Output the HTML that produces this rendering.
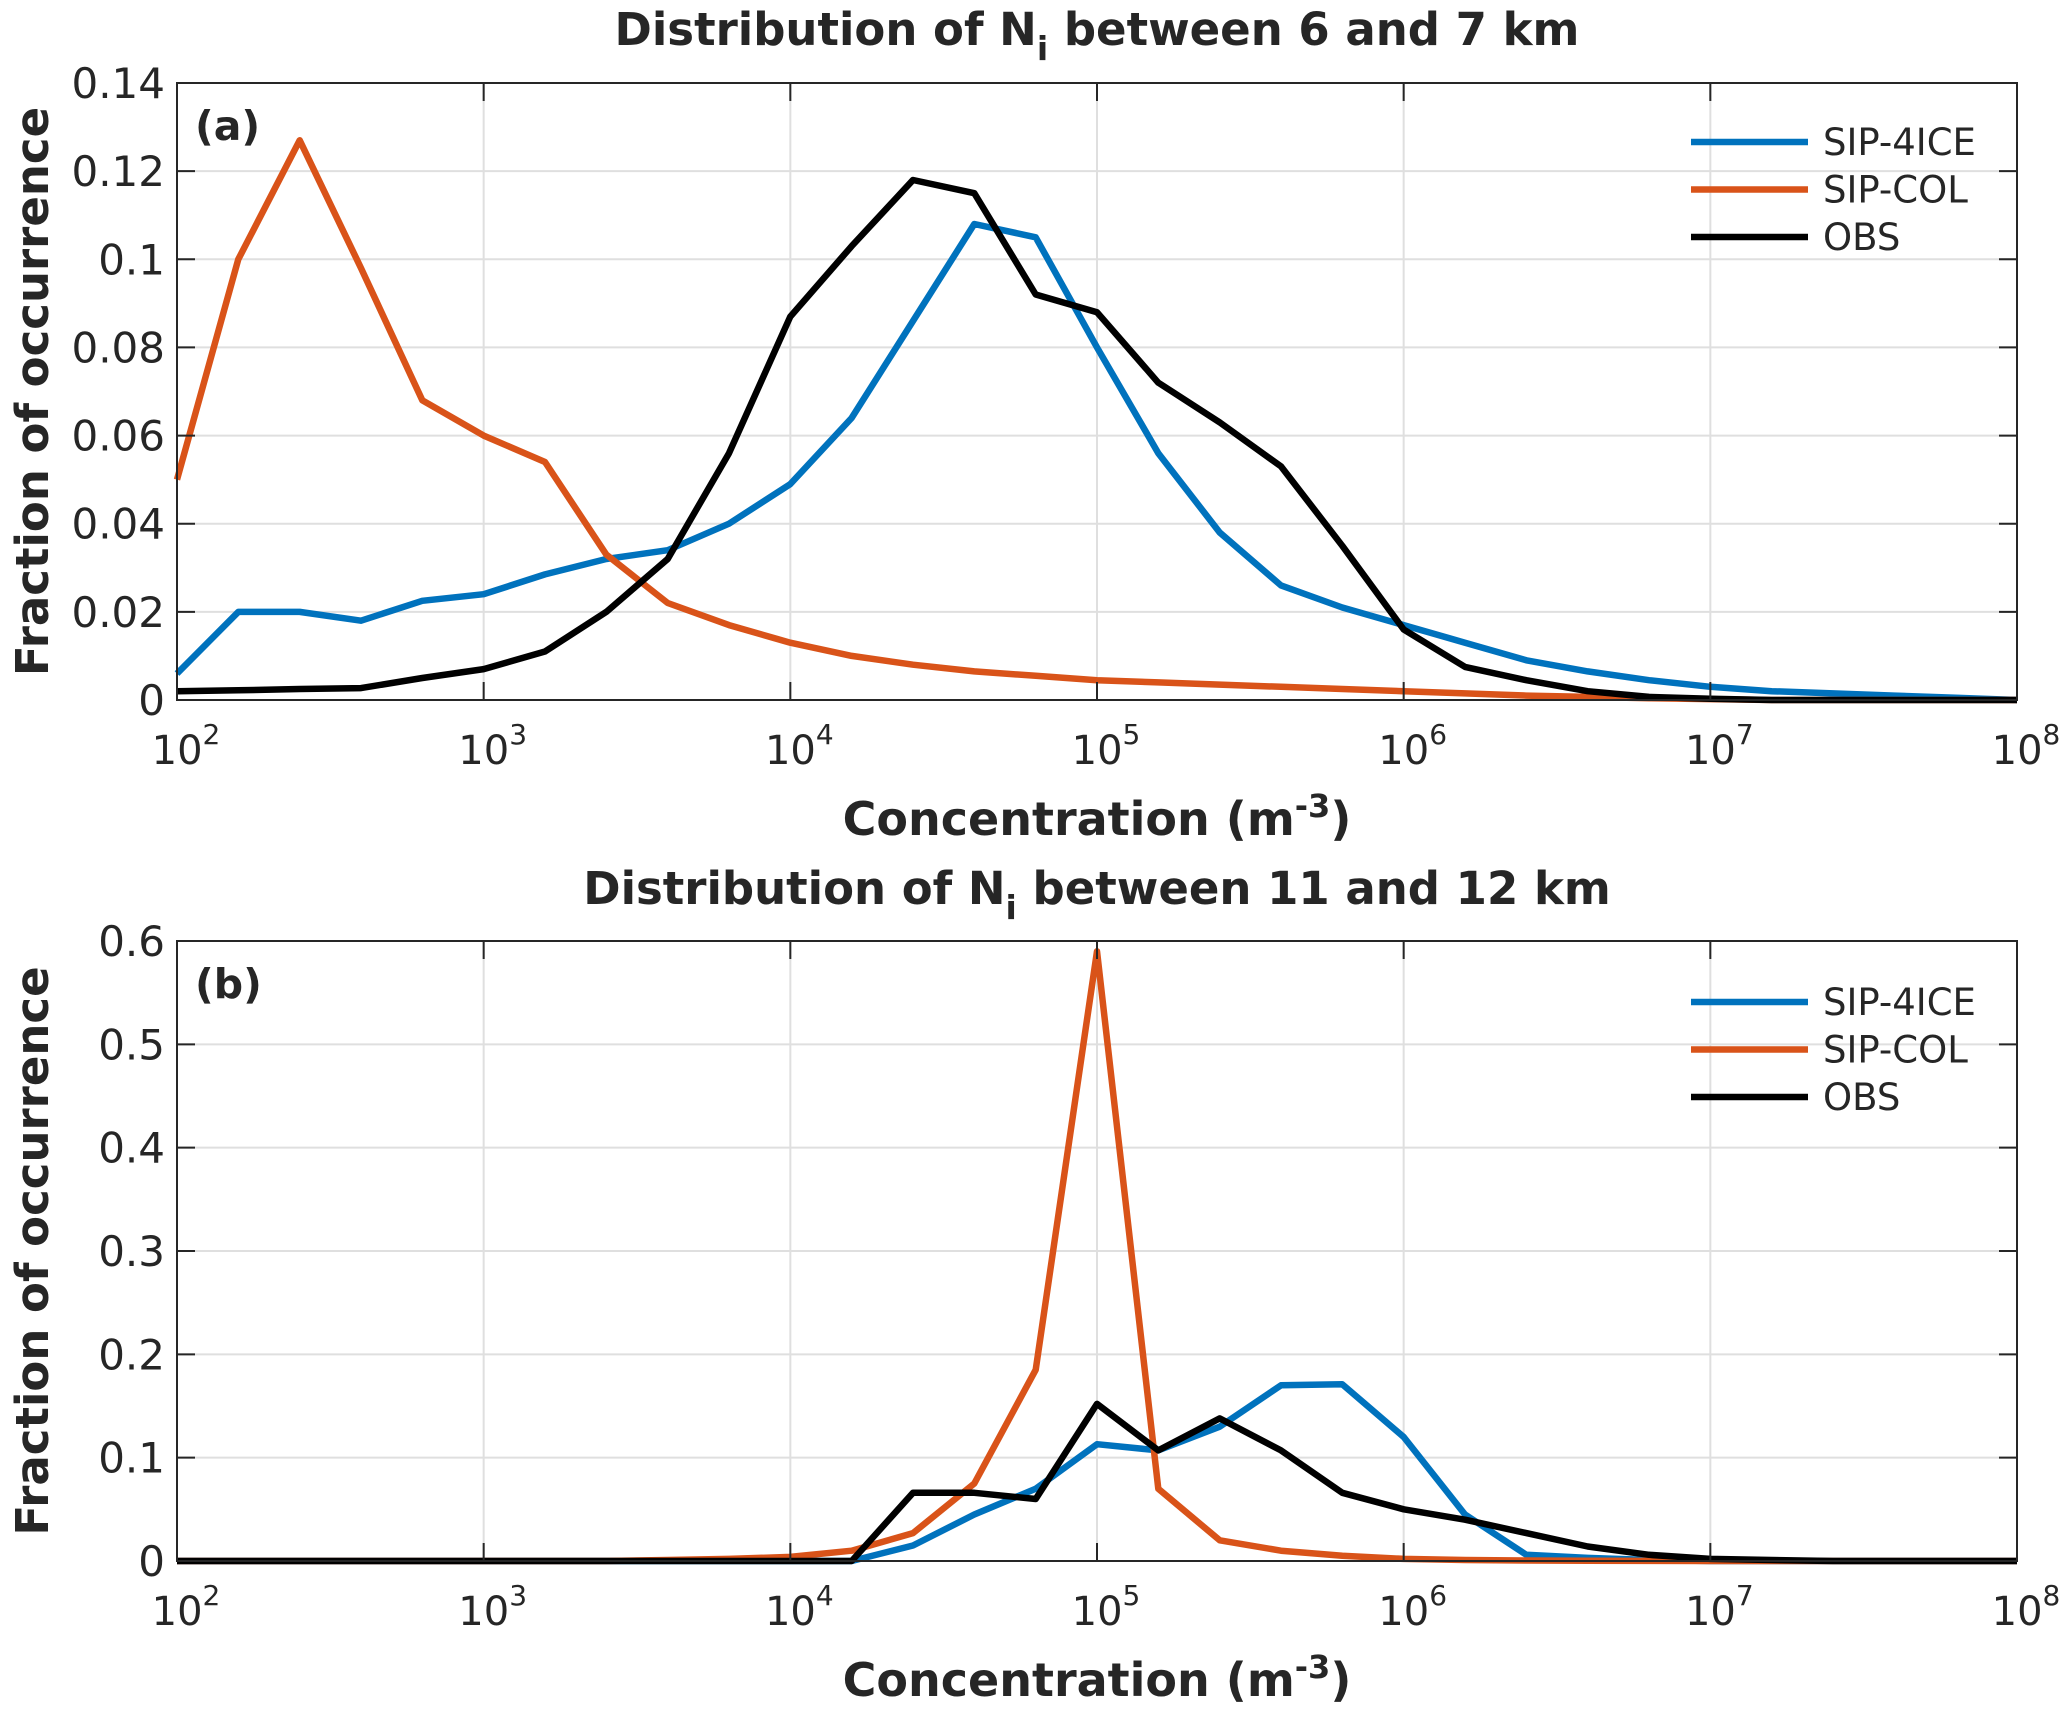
<!DOCTYPE html>
<html><head><meta charset="utf-8"><style>
html,body{margin:0;padding:0;background:#fff}
svg{display:block}
text{font-family:"DejaVu Sans","Liberation Sans",sans-serif;fill:#262626}
</style></head><body>
<svg id="fig" width="2067" height="1716" viewBox="0 0 2067 1716" xmlns="http://www.w3.org/2000/svg"></svg>
<script>
const xExp = [2,2.2,2.4,2.6,2.8,3,3.2,3.4,3.6,3.8,4,4.2,4.4,4.6,4.8,5,5.2,5.4,5.6,5.8,6,6.2,6.4,6.6,6.8,7,7.2,7.4,7.6,7.8,8];
const aBlue = [0.006,0.020,0.020,0.018,0.0225,0.024,0.0285,0.032,0.034,0.040,0.049,0.064,0.086,0.108,0.105,0.080,0.056,0.038,0.026,0.021,0.017,0.013,0.009,0.0065,0.0045,0.003,0.002,0.0015,0.001,0.0005,0];
const aOrange = [0.050,0.100,0.127,0.098,0.068,0.060,0.054,0.033,0.022,0.017,0.013,0.010,0.008,0.0065,0.0055,0.0045,0.004,0.0035,0.003,0.0025,0.002,0.0015,0.001,0.0007,0.0004,0.0002,0,0,0,0,0];
const aBlack = [0.002,0.0022,0.0025,0.0027,0.005,0.007,0.011,0.020,0.032,0.056,0.087,0.103,0.118,0.115,0.092,0.088,0.072,0.063,0.053,0.035,0.016,0.0075,0.0045,0.002,0.0007,0.0003,0,0,0,0,0];
const bBlue = [0,0,0,0,0,0,0,0,0,0,0,0,0.015,0.045,0.070,0.113,0.107,0.130,0.170,0.171,0.120,0.045,0.006,0.003,0.001,0,0,0,0,0,0];
const bOrange = [0,0,0,0,0,0,0,0,0.001,0.002,0.004,0.010,0.027,0.075,0.185,0.590,0.070,0.020,0.010,0.005,0.002,0.001,0.0005,0.0003,0.0001,0,0,0,0,0,0];
const bBlack = [0,0,0,0,0,0,0,0,0,0,0,0,0.066,0.066,0.060,0.152,0.107,0.138,0.107,0.066,0.050,0.040,0.027,0.014,0.006,0.002,0.001,0,0,0,0];
const xTickExp = [2,3,4,5,6,7,8];
const aYTicks = [0,0.02,0.04,0.06,0.08,0.1,0.12,0.14];
const aYLabels = ["0","0.02","0.04","0.06","0.08","0.1","0.12","0.14"];
const bYTicks = [0,0.1,0.2,0.3,0.4,0.5,0.6];
const bYLabels = ["0","0.1","0.2","0.3","0.4","0.5","0.6"];
const seriesNames = ["SIP-4ICE","SIP-COL","OBS"];
const colors = ["#0072BD","#D95319","#000000"];

const NS="http://www.w3.org/2000/svg";
const svg=document.getElementById('fig');
function mk(tag,attrs,parent){const e=document.createElementNS(NS,tag);for(const k in attrs)e.setAttribute(k,attrs[k]);(parent||svg).appendChild(e);return e;}

function panel(p){
  const L=177,R=2017,T=p.top,B=p.bottom;
  const xs=e=>L+(e-2)/6*(R-L);
  const ys=v=>B-v/p.ymax*(B-T);
  const g=mk('g',{});
  
  
  xTickExp.forEach(e=>{const l=mk('line',{x1:xs(e),x2:xs(e),y1:T,y2:B,stroke:'#dfdfdf','stroke-width':2},g);
    });
  p.yt.forEach(v=>{const l=mk('line',{x1:L,x2:R,y1:ys(v),y2:ys(v),stroke:'#dfdfdf','stroke-width':2},g);
    });
  p.series.forEach((s,i)=>{
    const pts=s.map((v,j)=>xs(xExp[j]).toFixed(1)+','+ys(v).toFixed(1)).join(' ');
    const pl=mk('polyline',{points:pts,fill:'none',stroke:colors[i],'stroke-width':6.5,'stroke-linejoin':'round'},g);
    
    
  });
  const bx=mk('rect',{x:L,y:T,width:R-L,height:B-T,fill:'none',stroke:'#262626','stroke-width':2},g);
  
  xTickExp.forEach(e=>{
    mk('line',{x1:xs(e),x2:xs(e),y1:B,y2:B-18,stroke:'#262626','stroke-width':2},g);
    mk('line',{x1:xs(e),x2:xs(e),y1:T,y2:T+18,stroke:'#262626','stroke-width':2},g);
    const t=mk('text',{x:xs(e)+9,y:B+64,'text-anchor':'middle','font-size':40},g);
    
    t.textContent='10';
    const sp=mk('tspan',{dy:-20,'font-size':28},t);sp.textContent=String(e);
  });
  p.yt.forEach((v,i)=>{
    mk('line',{x1:L,x2:L+18,y1:ys(v),y2:ys(v),stroke:'#262626','stroke-width':2},g);
    mk('line',{x1:R,x2:R-18,y1:ys(v),y2:ys(v),stroke:'#262626','stroke-width':2},g);
    const t=mk('text',{x:L-12,y:ys(v)+15,'text-anchor':'end','font-size':42},g);
    
    t.textContent=p.yl[i];
  });
  const tt=mk('text',{x:(L+R)/2,y:p.titleY,'text-anchor':'middle','font-size':45,'font-weight':'bold',fill:'#000'},g);
  
  tt.textContent='Distribution of N';
  const s1=mk('tspan',{dy:15,'font-size':33},tt);s1.textContent='i';
  const s2=mk('tspan',{dy:-15},tt);s2.textContent=' between '+p.range+' km';
  const xl=mk('text',{x:(L+R)/2,y:B+135,'text-anchor':'middle','font-size':46,'font-weight':'bold'},g);
  
  xl.textContent='Concentration (m';
  const x1=mk('tspan',{dy:-18,'font-size':32},xl);x1.textContent='-3';
  const x2=mk('tspan',{dy:18},xl);x2.textContent=')';
  const yl=mk('text',{x:0,y:0,'text-anchor':'middle','font-size':45,'font-weight':'bold',transform:`translate(48,${(T+B)/2}) rotate(-90)`},g);
  
  yl.textContent='Fraction of occurrence';
  const pl=mk('text',{x:195,y:T+57,'font-size':41,'font-weight':'bold',fill:'#000'},g);
  
  pl.textContent='('+p.id+')';
  const lg=mk('g',{},g);
  
  seriesNames.forEach((n,i)=>{
    const y=p.legY+i*47.5;
    const e=mk('g',{},lg);
    
    mk('line',{x1:1691,x2:1808,y1:y,y2:y,stroke:colors[i],'stroke-width':6.5},e);
    const t=mk('text',{x:1823,y:y+13,'font-size':37},e);t.textContent=n;
  });
}
panel({id:'a',top:83,bottom:700,ymax:0.14,yt:aYTicks,yl:aYLabels,series:[aBlue,aOrange,aBlack],titleY:45,range:'6 and 7',legY:142});
panel({id:'b',top:941,bottom:1561,ymax:0.6,yt:bYTicks,yl:bYLabels,series:[bBlue,bOrange,bBlack],titleY:904,range:'11 and 12',legY:1002});
</script>
</body></html>
